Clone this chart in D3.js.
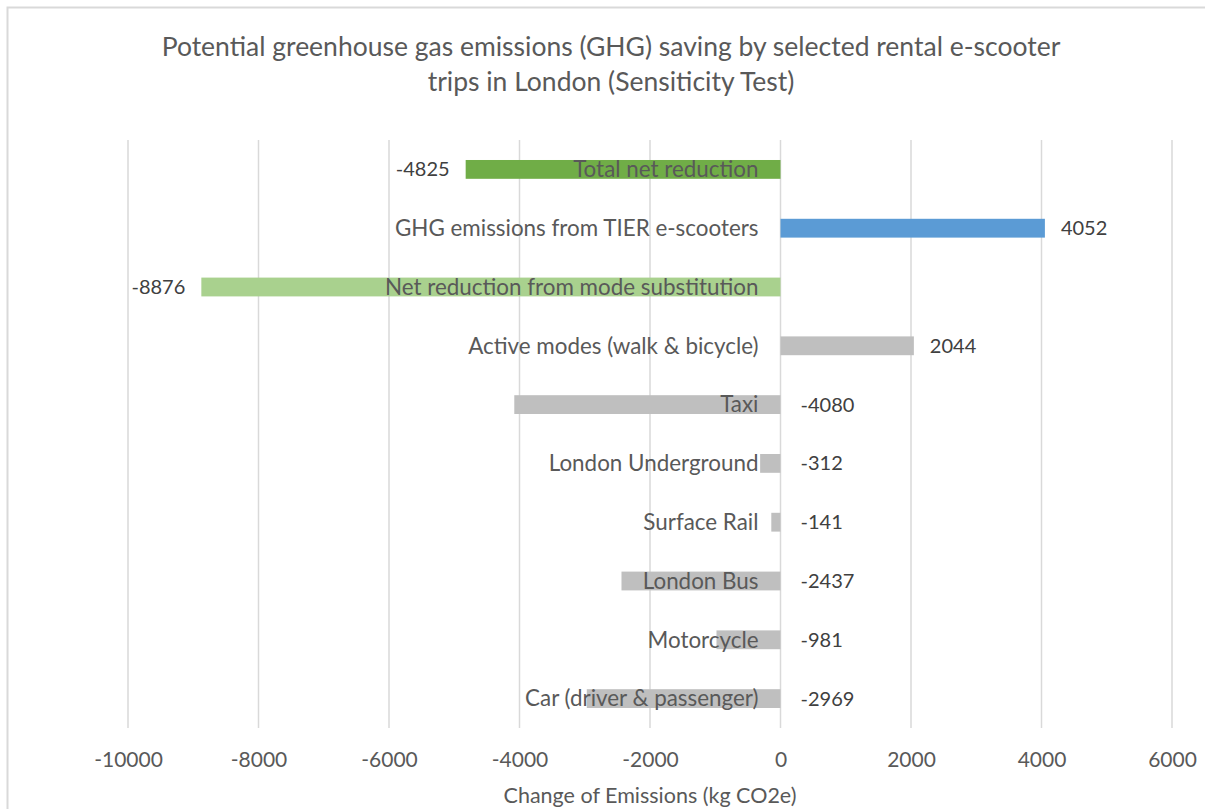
<!DOCTYPE html>
<html>
<head>
<meta charset="utf-8">
<script src="https://cdn.jsdelivr.net/npm/d3@7"></script>
<style>
  html, body { margin: 0; padding: 0; background: #fff; }
  svg { display: block; }
  text { font-family: Lato, "Open Sans", sans-serif; }
</style>
</head>
<body>
<svg id="chart" width="1205" height="809"></svg>
<script>
// Emission changes by trip component, top row first (kg CO2e)
const categories = [
  "Total net reduction",
  "GHG emissions from TIER e-scooters",
  "Net reduction from mode substitution",
  "Active modes (walk & bicycle)",
  "Taxi",
  "London Underground",
  "Surface Rail",
  "London Bus",
  "Motorcycle",
  "Car (driver & passenger)"
];
const values = [-4825, 4052, -8876, 2044, -4080, -312, -141, -2437, -981, -2969];
const groups = ["total", "tier", "net", "mode", "mode", "mode", "mode", "mode", "mode", "mode"];
const xTicks = [-10000, -8000, -6000, -4000, -2000, 0, 2000, 4000, 6000];
const titleLines = [
  "Potential greenhouse gas emissions (GHG) saving by selected rental e-scooter",
  "trips in London (Sensiticity Test)"
];
const axisTitle = "Change of Emissions (kg CO2e)";

const groupColor = { total: "#70AD47", tier: "#5B9BD5", net: "#A9D18E", mode: "#BFBFBF" };

const rows = categories.map((c, i) => ({ name: c, value: values[i], group: groups[i] }));

const svg = d3.select("#chart");
const plot = { left: 128, right: 1172, top: 140, bottom: 728 };

// outer chart frame
svg.append("rect")
  .attr("x", 7.5).attr("y", 7.5)
  .attr("width", 1300).attr("height", 900)
  .attr("fill", "none").attr("stroke", "#D9D9D9").attr("stroke-width", 2);

// title
svg.append("g").selectAll("text").data(titleLines).join("text")
  .attr("x", 611).attr("y", (d, i) => 56 + i * 35)
  .attr("text-anchor", "middle")
  .attr("fill", "#595959")
  .attr("font-size", 26.5)
  .text(d => d);

const x = d3.scaleLinear().domain([-10000, 6000]).range([plot.left, plot.right]);
const y = d3.scaleBand().domain(categories).range([plot.top, plot.bottom])
  .paddingInner(0.68).paddingOuter(0.34);

// vertical gridlines
svg.append("g").selectAll("line").data(xTicks).join("line")
  .attr("x1", d => x(d)).attr("x2", d => x(d))
  .attr("y1", plot.top).attr("y2", plot.bottom)
  .attr("stroke", "#D9D9D9").attr("stroke-width", 1.5);

// x axis labels (plain hyphen for negatives)
const axis = svg.append("g")
  .attr("transform", `translate(0,${plot.bottom})`)
  .call(d3.axisBottom(x).tickValues(xTicks).tickFormat(d => String(d)).tickSize(0).tickPadding(24));
axis.select(".domain").remove();
axis.selectAll("text").attr("font-size", 21).attr("fill", "#595959")
  .attr("font-family", "Lato, 'Open Sans', sans-serif");

svg.append("text")
  .attr("x", 650).attr("y", 803)
  .attr("text-anchor", "middle").attr("fill", "#595959").attr("font-size", 21.5)
  .text(axisTitle);

// bars
svg.append("g").selectAll("rect").data(rows).join("rect")
  .attr("x", d => x(Math.min(0, d.value)))
  .attr("width", d => Math.abs(x(d.value) - x(0)))
  .attr("y", d => y(d.name))
  .attr("height", y.bandwidth())
  .attr("fill", d => groupColor[d.group]);

// category labels next to the zero line
svg.append("g").selectAll("text").data(rows).join("text")
  .attr("x", x(0) - 22)
  .attr("y", d => y(d.name) + y.bandwidth() / 2)
  .attr("dy", "0.35em")
  .attr("text-anchor", "end")
  .attr("fill", "#595959")
  .attr("font-size", 22.4)
  .text(d => d.name);

// value labels
svg.append("g").selectAll("text").data(rows).join("text")
  .attr("x", d => {
    if (d.group === "mode" && d.value < 0) return x(0) + 20;
    return d.value < 0 ? x(d.value) - 16 : x(d.value) + 16;
  })
  .attr("y", d => y(d.name) + y.bandwidth() / 2)
  .attr("dy", "0.35em")
  .attr("text-anchor", d => (d.value < 0 && d.group !== "mode") ? "end" : "start")
  .attr("fill", "#404040")
  .attr("font-size", 20)
  .text(d => d.value);
</script>
</body>
</html>
